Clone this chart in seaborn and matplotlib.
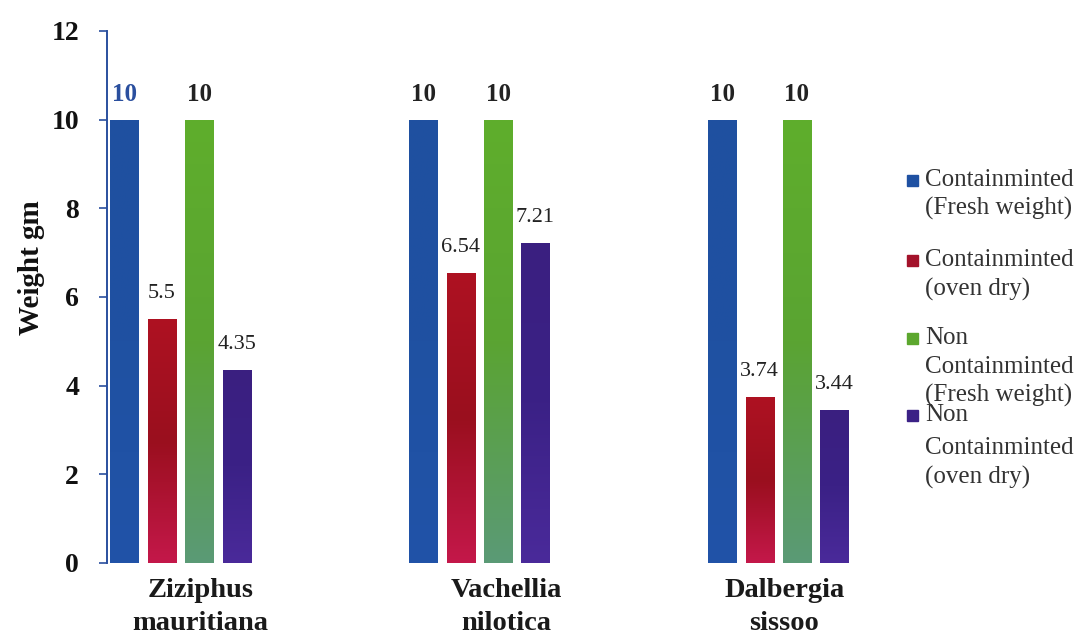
import matplotlib
matplotlib.use("Agg")
import matplotlib.pyplot as plt
from matplotlib.colors import LinearSegmentedColormap
import numpy as np
import seaborn as sns
import pandas as pd

# Plant species (x categories)
species = ["Ziziphus\nmauritiana", "Vachellia\nnilotica", "Dalbergia\nsissoo"]

# Treatment series
series = [
    "Containminted\n(Fresh weight)",
    "Containminted\n(oven dry)",
    "Non\nContainminted\n(Fresh weight)",
    "Non\nContainminted\n(oven dry)",
]

# Weight (gm) per series, in species order
cont_fresh = [10, 10, 10]
cont_dry = [5.5, 6.54, 3.74]
non_fresh = [10, 10, 10]
non_dry = [4.35, 7.21, 3.44]

y_ticks = [0, 2, 4, 6, 8, 10, 12]

colors = ["#1f51a2", "#a3122a", "#5ca72e", "#3b2186"]
# top -> middle -> bottom shading of each series' bars
shades = [
    ["#1f50a0", "#1f51a2", "#2153a8"],
    ["#ae1222", "#9a0f1e", "#c4184a"],
    ["#5fae2c", "#5aa432", "#5b9a76"],
    ["#3a1f80", "#3b2186", "#4a2a9a"],
]
axis_blue = "#2a4f9e"

values = [cont_fresh, cont_dry, non_fresh, non_dry]
rows = []
for s, vals in zip(series, values):
    for sp, v in zip(species, vals):
        rows.append({"species": sp, "series": s, "weight": v})
df = pd.DataFrame(rows)

sns.set_theme(style="white")
plt.rcParams["font.family"] = ["Liberation Serif", "DejaVu Serif"]

fig = plt.figure(figsize=(10.81, 6.42), dpi=100)
ax = fig.add_axes([0.099, 0.1231, 0.716, 0.8287])

sns.barplot(data=df, x="species", y="weight", hue="series", order=species,
            hue_order=series, palette=colors, width=0.5, gap=0.25,
            saturation=1, legend=False, ax=ax)

# Vertical shading inside every bar
grad = np.linspace(0, 1, 256).reshape(-1, 1)
for i, cont in enumerate(ax.containers):
    cmap = LinearSegmentedColormap.from_list(f"shade{i}", shades[i])
    for bar in cont:
        x0, w, h = bar.get_x(), bar.get_width(), bar.get_height()
        im = ax.imshow(grad, cmap=cmap, aspect="auto", origin="upper",
                       extent=(x0, x0 + w, 0, h), zorder=bar.get_zorder() + 0.1,
                       interpolation="bilinear")
        im.set_clip_path(bar)
ax.set_xlim(-0.246, 2.344)
ax.set_ylim(0, 12)

# Value labels on top of the bars
for i, cont in enumerate(ax.containers):
    vals = values[i]
    for j, (bar, v) in enumerate(zip(cont, vals)):
        is_whole = float(v).is_integer()
        txt = f"{int(v)}" if is_whole else f"{v:g}"
        color = axis_blue if (i == 0 and j == 0) else "#222222"
        ax.annotate(txt, (bar.get_x() + bar.get_width() / 2, bar.get_height()),
                    xytext=(0, 10 if is_whole else 11.5), textcoords="offset points",
                    ha="center", va="bottom", fontsize=18 if is_whole else 16,
                    fontweight="bold" if is_whole else "normal", color=color,
                    zorder=5)

ax.set_yticks(y_ticks)
ax.set_yticklabels([str(t) for t in y_ticks], fontsize=20, fontweight="bold",
                   color="#111111")
ax.set_xticks(range(len(species)))
ax.set_xticklabels([])
ax.set_xlabel("")
ax.set_ylabel("Weight gm", fontsize=21, fontweight="bold", color="#111111")
ax.yaxis.set_label_coords(-0.080, 0.555)

# Species names below each group, set a little right of the group centre
shifts = [20, 27, 6]
for k, (name, dx) in enumerate(zip(species, shifts)):
    ax.annotate(name, (k, 0), xycoords=("data", "axes fraction"),
                xytext=(dx * 0.72, -10.5), textcoords="offset points",
                ha="center", va="top", fontsize=20.5, fontweight="bold",
                color="#1a1a1a", linespacing=1.45)

ax.tick_params(axis="y", direction="out", length=6, width=1.2, color=axis_blue,
               pad=14, left=True)
ax.tick_params(axis="x", length=0)
for side in ["top", "right", "bottom"]:
    ax.spines[side].set_visible(False)
ax.spines["left"].set_color(axis_blue)
ax.spines["left"].set_linewidth(1.4)

# Legend drawn as markers and text on the right side
legend_y = [[180, 208], [260, 289], [338, 367, 395], [415, 448, 477]]
for s, c, ys in zip(series, colors, legend_y):
    y = ys[0]
    fig.patches.append(plt.Rectangle((907 / 1081, 1 - (y + 6) / 642), 11 / 1081, 11 / 642,
                                     transform=fig.transFigure, color=c))
    for line, yy in zip(s.split("\n"), ys):
        fig.text(925 / 1081, 1 - yy / 642, line, fontsize=18,
                 color="#333333", ha="left", va="center")

fig.savefig("out.png", dpi=100, facecolor="white")
